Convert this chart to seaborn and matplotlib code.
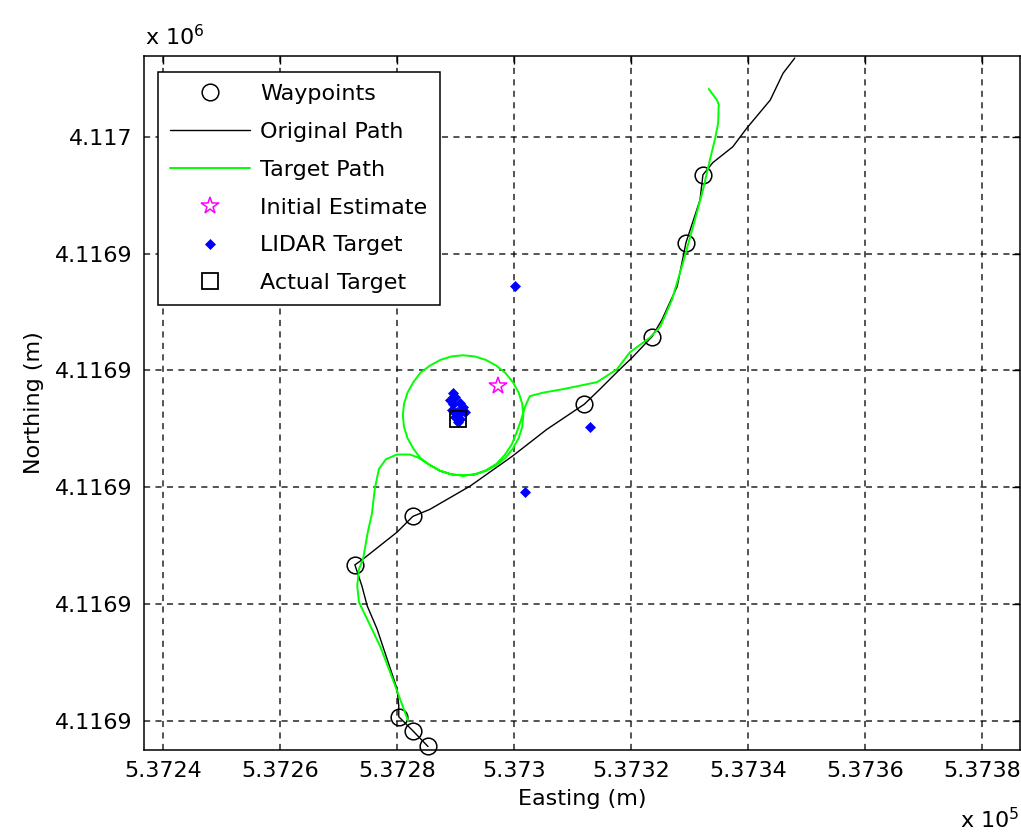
import matplotlib
matplotlib.use("Agg")
import matplotlib.pyplot as plt
import seaborn as sns
import pandas as pd

# ---------------- data (metres) ----------------
wp_east = [537332.3, 537329.4, 537323.6, 537312.0, 537282.7, 537272.8, 537280.3, 537282.7, 537285.3]
wp_north = [4116953.5, 4116941.9, 4116925.8, 4116914.2, 4116895.0, 4116886.7, 4116860.7, 4116858.3, 4116855.6]

orig_east = [537348.0, 537346.0, 537343.8, 537339.8, 537337.4, 537334.0, 537332.3, 537331.8, 537329.4,
             537327.9, 537325.3, 537323.6, 537320.2, 537318.1, 537314.7, 537312.0, 537305.6, 537299.7,
             537292.5, 537285.6, 537282.7, 537280.0, 537274.2, 537272.8, 537274.0, 537274.9, 537276.6,
             537278.3, 537280.0, 537280.3, 537280.3, 537282.7, 537285.3]
orig_north = [4116973.5, 4116970.9, 4116966.3, 4116961.5, 4116958.3, 4116955.6, 4116953.5, 4116949.2, 4116941.9,
              4116934.4, 4116928.7, 4116925.8, 4116922.2, 4116920.2, 4116916.8, 4116914.2, 4116909.9, 4116905.3,
              4116900.2, 4116896.2, 4116895.0, 4116892.3, 4116887.7, 4116886.7, 4116883.1, 4116879.7, 4116875.7,
              4116870.6, 4116865.5, 4116862.6, 4116860.7, 4116858.3, 4116855.6]

tgt_east = [537281.9, 537280.5, 537278.8, 537277.1, 537274.9, 537273.5, 537273.2, 537273.5, 537274.2,
            537275.0, 537275.7, 537276.2, 537276.9, 537278.1, 537280.0, 537282.2, 537283.6,
            537285.6, 537287.4, 537289.3, 537291.3, 537293.3, 537295.2, 537297.0, 537298.5, 537299.8,
            537300.8, 537301.4, 537301.6, 537301.4, 537300.8, 537299.8, 537298.5, 537297.0, 537295.2,
            537293.3, 537291.3, 537289.3, 537287.4, 537285.6, 537284.0, 537282.8, 537281.8, 537281.2,
            537281.0, 537281.2, 537281.8, 537282.8, 537284.0, 537285.6, 537287.4, 537289.3, 537291.3,
            537293.3, 537295.2, 537297.0, 537298.4, 537299.6, 537300.5, 537301.2, 537301.9,
            537302.7, 537305.0, 537308.4, 537314.2,
            537317.6, 537319.8, 537323.2, 537325.0, 537327.0, 537328.9, 537330.6, 537332.3, 537333.5,
            537334.4, 537334.9, 537335.0, 537334.7, 537333.3]
tgt_north = [4116860.0, 4116863.8, 4116868.4, 4116872.8, 4116877.4, 4116880.3, 4116883.1, 4116886.0, 4116887.7,
             4116892.3, 4116895.4, 4116899.7, 4116903.1, 4116904.8, 4116905.6, 4116905.6, 4116905.1,
             4116903.8, 4116902.8, 4116902.2, 4116902.0, 4116902.2, 4116902.8, 4116903.8, 4116905.0, 4116906.6,
             4116908.4, 4116910.3, 4116912.3, 4116914.3, 4116916.2, 4116918.0, 4116919.6, 4116920.8, 4116921.8,
             4116922.4, 4116922.6, 4116922.4, 4116921.8, 4116920.8, 4116919.6, 4116918.0, 4116916.2, 4116914.3,
             4116912.3, 4116910.3, 4116908.4, 4116906.6, 4116905.0, 4116903.8, 4116902.8, 4116902.2, 4116902.0,
             4116902.2, 4116902.9, 4116904.0, 4116905.5, 4116907.3, 4116909.5, 4116911.5, 4116913.8,
             4116915.6, 4116916.2, 4116916.8, 4116918.0,
             4116920.2, 4116923.1, 4116925.6, 4116927.5, 4116932.1, 4116938.5, 4116944.6, 4116950.9, 4116956.1,
             4116959.8, 4116962.4, 4116965.5, 4116966.3, 4116968.2]

est_east = [537297.3]
est_north = [4116917.3]

lidar_east = [537289.6, 537289.9, 537289.1, 537290.8, 537289.6, 537291.3, 537289.4, 537291.1, 537290.3,
              537291.6, 537289.9, 537290.8, 537290.4, 537300.2, 537313.0, 537301.9]
lidar_north = [4116916.2, 4116915.4, 4116915.0, 4116914.5, 4116914.2, 4116913.8, 4116913.3, 4116913.0, 4116912.8,
               4116912.8, 4116912.0, 4116911.6, 4116911.1, 4116934.4, 4116910.3, 4116899.2]

actual_east = [537290.5]
actual_north = [4116911.6]

x_ticks = [537240, 537260, 537280, 537300, 537320, 537340, 537360, 537380]
x_tick_labels = ["5.3724", "5.3726", "5.3728", "5.373", "5.3732", "5.3734", "5.3736", "5.3738"]
y_ticks = [4116860, 4116880, 4116900, 4116920, 4116940, 4116960]
y_tick_labels = ["4.1169", "4.1169", "4.1169", "4.1169", "4.1169", "4.117"]

legend_labels = ["Waypoints", "Original Path", "Target Path", "Initial Estimate", "LIDAR Target", "Actual Target"]

# ---------------- style ----------------
sns.set_style("white")
plt.rcParams["font.family"] = ["DejaVu Sans"]
plt.rcParams["text.color"] = "black"
plt.rcParams["axes.labelcolor"] = "black"
plt.rcParams["xtick.color"] = "black"
plt.rcParams["ytick.color"] = "black"
FS = 16

fig = plt.figure(figsize=(10.21, 8.34), dpi=100)
ax = fig.add_axes([144 / 1021, 1 - 750 / 834, (1020 - 144) / 1021, (750 - 56) / 834])

wp = pd.DataFrame({"e": wp_east, "n": wp_north})
orig = pd.DataFrame({"e": orig_east, "n": orig_north})
tgt = pd.DataFrame({"e": tgt_east, "n": tgt_north})
est = pd.DataFrame({"e": est_east, "n": est_north})
lid = pd.DataFrame({"e": lidar_east, "n": lidar_north})
act = pd.DataFrame({"e": actual_east, "n": actual_north})

common = dict(x="e", y="n", ax=ax, sort=False, estimator=None)

sns.lineplot(data=wp, **common, linestyle="none", marker="o", markersize=12,
             markerfacecolor="none", markeredgecolor="black", markeredgewidth=1.1,
             color="black", label=legend_labels[0], clip_on=False, zorder=3)
sns.lineplot(data=orig, **common, color="black", linewidth=1.0, label=legend_labels[1], zorder=4)
sns.lineplot(data=tgt, **common, color="#00ff00", linewidth=1.4, label=legend_labels[2], zorder=4)
sns.lineplot(data=est, **common, linestyle="none", marker="*", markersize=13,
             markerfacecolor="none", markeredgecolor="#ff00ff", markeredgewidth=1.1,
             color="#ff00ff", label=legend_labels[3], zorder=5)
sns.lineplot(data=lid, **common, linestyle="none", marker="D", markersize=5.5,
             markerfacecolor="#0000ff", markeredgecolor="#0000ff", markeredgewidth=0.5,
             color="#0000ff", label=legend_labels[4], zorder=5)
sns.lineplot(data=act, **common, linestyle="none", marker="s", markersize=12,
             markerfacecolor="none", markeredgecolor="black", markeredgewidth=1.3,
             color="black", label=legend_labels[5], zorder=5)

ax.set_xlim(537236.75, 537386.5)
ax.set_ylim(4116855.0, 4116973.85)

ax.set_xticks(x_ticks)
ax.set_xticklabels(x_tick_labels)
ax.set_yticks(y_ticks)
ax.set_yticklabels(y_tick_labels)

ax.grid(True, color="black", linestyle=(0, (4, 3.5)), linewidth=1.1, alpha=0.85)
ax.set_axisbelow(True)

ax.tick_params(direction="in", length=6, width=1, top=True, right=True,
               labelsize=FS, pad=8, colors="black")
for sp in ax.spines.values():
    sp.set_visible(True)
    sp.set_color("black")
    sp.set_linewidth(1.1)

ax.set_xlabel("Easting (m)", fontsize=FS, labelpad=6)
ax.set_ylabel("Northing (m)", fontsize=FS, labelpad=8)

fig.text(145 / 1021, 1 - 45 / 834, r"x 10$^{6}$", fontsize=FS, ha="left", va="baseline")
fig.text(960 / 1021, 1 - 828 / 834, r"x 10$^{5}$", fontsize=FS, ha="left", va="baseline")

handles = ax.get_lines()[:6]
leg = ax.legend(handles=handles, labels=legend_labels, loc="upper left",
                bbox_to_anchor=((158 - 144) / 876, 1 - (72 - 56) / 694), borderaxespad=0,
                fontsize=FS, frameon=True, fancybox=False, framealpha=1,
                edgecolor="black", handlelength=3.6, handletextpad=0.45,
                labelspacing=0.8, borderpad=0.55)
leg.get_frame().set_linewidth(1.1)

fig.savefig("out.png", dpi=100)
